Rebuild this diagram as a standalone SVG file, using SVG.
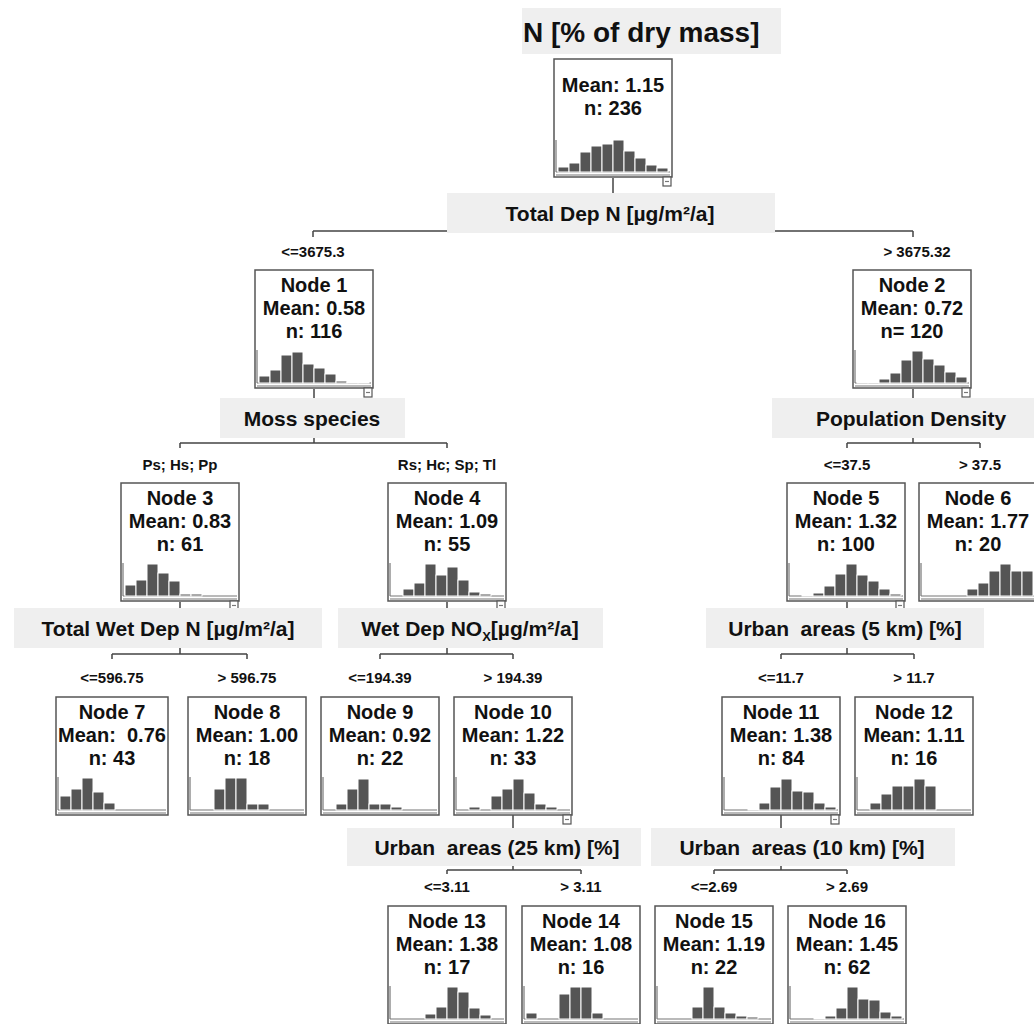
<svg xmlns="http://www.w3.org/2000/svg" width="1034" height="1024" viewBox="0 0 1034 1024">
<defs>
<style>
text{font-family:"Liberation Sans",Arial,sans-serif;font-weight:bold;fill:#111;text-anchor:middle;white-space:pre}
.nt{font-size:20px}
.sl{font-size:21px}
.lb{font-size:15px}
.tt{font-size:28px;text-anchor:start}
.box{fill:#fff;stroke:#555;stroke-width:1.5}
.sp{fill:#efefef}
.ax{stroke:#777;stroke-width:1.2;fill:none}
.bar{fill:#555;stroke:#fff;stroke-width:1}
.mn{fill:#fff;stroke:#555;stroke-width:1.2}
.cn{stroke:#444;stroke-width:1.5;fill:none}
</style>
</defs>
<rect width="1034" height="1024" fill="#fff"/>

<g id="connectors">
<path class="cn" d="M613,178V193 M313,231H913 M313,231V237 M913,231V237"/>
<path class="cn" d="M314,389V398 M314,438V443 M180,443H447 M180,443V448 M447,443V448"/>
<path class="cn" d="M913,389V398 M913,438V443 M847,443H980 M847,443V448 M980,443V448"/>
<path class="cn" d="M180,602V608 M180,648V654 M112,654H247 M112,654V659 M247,654V659"/>
<path class="cn" d="M447,602V608 M447,648V654 M380,654H513 M380,654V659 M513,654V659"/>
<path class="cn" d="M847,602V608 M847,648V654 M781,654H914 M781,654V659 M914,654V659"/>
<path class="cn" d="M513,815V828 M513,866V870 M447,870H581 M447,870V874 M581,870V874"/>
<path class="cn" d="M781,815V828 M781,866V870 M714,870H847 M714,870V874 M847,870V874"/>
</g>

<g id="title">
<rect class="sp" x="522" y="8" width="259" height="46"/>
<text class="tt" x="523" y="42">N [% of dry mass]</text>
</g>

<g id="root">
<rect class="box" x="554" y="59" width="118" height="118"/>
<text class="nt" x="613" y="92">Mean: 1.15</text>
<text class="nt" x="613" y="115">n: 236</text>
<path class="ax" d="M556,140V172 M556,172H670 M556,175H670"/>
<rect class="bar" x="558" y="167" width="11" height="5"/><rect class="bar" x="569" y="163" width="11" height="9"/><rect class="bar" x="580" y="152" width="11" height="20"/><rect class="bar" x="591" y="146" width="11" height="26"/><rect class="bar" x="602" y="144" width="11" height="28"/><rect class="bar" x="613" y="140" width="11" height="32"/><rect class="bar" x="624" y="151" width="11" height="21"/><rect class="bar" x="635" y="158" width="11" height="14"/><rect class="bar" x="646" y="165" width="11" height="7"/><rect class="bar" x="657" y="168" width="11" height="4"/>
<rect class="mn" x="663" y="177" width="8" height="9"/><path class="ax" d="M665,181.5H669"/>
</g>

<g id="split-total-dep-n">
<rect class="sp" x="447" y="193" width="328" height="40"/>
<text class="sl" x="610" y="221">Total Dep N [µg/m²/a]</text>
<text class="lb" x="313" y="257">&lt;=3675.3</text>
<text class="lb" x="917" y="257">&gt; 3675.32</text>
</g>

<g id="node1">
<rect class="box" x="255" y="270" width="118" height="118"/>
<text class="nt" x="314" y="292">Node 1</text>
<text class="nt" x="314" y="315">Mean: 0.58</text>
<text class="nt" x="314" y="338">n: 116</text>
<path class="ax" d="M257,350V383 M257,383H371 M257,386H371"/>
<rect class="bar" x="259" y="376" width="11" height="7"/><rect class="bar" x="270" y="370" width="11" height="13"/><rect class="bar" x="281" y="355" width="11" height="28"/><rect class="bar" x="292" y="352" width="11" height="31"/><rect class="bar" x="303" y="364" width="11" height="19"/><rect class="bar" x="314" y="368" width="11" height="15"/><rect class="bar" x="325" y="374" width="11" height="9"/><rect class="bar" x="336" y="381" width="11" height="2"/><rect class="bar" x="347" y="382" width="11" height="1"/><rect class="bar" x="358" y="382" width="11" height="1"/>
<rect class="mn" x="364" y="388" width="8" height="9"/><path class="ax" d="M366,392.5H370"/>
</g>

<g id="node2">
<rect class="box" x="853" y="270" width="118" height="118"/>
<text class="nt" x="912" y="292">Node 2</text>
<text class="nt" x="912" y="315">Mean: 0.72</text>
<text class="nt" x="912" y="338">n= 120</text>
<path class="ax" d="M855,350V383 M855,383H969 M855,386H969"/>
<rect class="bar" x="857" y="382" width="11" height="1"/><rect class="bar" x="868" y="382" width="11" height="1"/><rect class="bar" x="879" y="379" width="11" height="4"/><rect class="bar" x="890" y="373" width="11" height="10"/><rect class="bar" x="901" y="360" width="11" height="23"/><rect class="bar" x="912" y="351" width="11" height="32"/><rect class="bar" x="923" y="359" width="11" height="24"/><rect class="bar" x="934" y="365" width="11" height="18"/><rect class="bar" x="945" y="372" width="11" height="11"/><rect class="bar" x="956" y="377" width="11" height="6"/>
<rect class="mn" x="962" y="388" width="8" height="9"/><path class="ax" d="M964,392.5H968"/>
</g>

<g id="split-moss">
<rect class="sp" x="220" y="398" width="185" height="40"/>
<text class="sl" x="312" y="426">Moss species</text>
<text class="lb" x="180" y="470">Ps; Hs; Pp</text>
<text class="lb" x="447" y="470">Rs; Hc; Sp; Tl</text>
</g>

<g id="split-population">
<rect class="sp" x="772" y="398" width="262" height="40"/>
<text class="sl" x="911" y="426">Population Density</text>
<text class="lb" x="847" y="470">&lt;=37.5</text>
<text class="lb" x="980" y="470">&gt; 37.5</text>
</g>

<g id="node3">
<rect class="box" x="121" y="483" width="118" height="118"/>
<text class="nt" x="180" y="505">Node 3</text>
<text class="nt" x="180" y="528">Mean: 0.83</text>
<text class="nt" x="180" y="551">n: 61</text>
<path class="ax" d="M123,563V596 M123,596H237 M123,599H237"/>
<rect class="bar" x="125" y="585" width="11" height="11"/><rect class="bar" x="136" y="580" width="11" height="16"/><rect class="bar" x="147" y="564" width="11" height="32"/><rect class="bar" x="158" y="573" width="11" height="23"/><rect class="bar" x="169" y="581" width="11" height="15"/><rect class="bar" x="180" y="594" width="11" height="2"/><rect class="bar" x="191" y="594" width="11" height="2"/>
<rect class="mn" x="230" y="601" width="8" height="9"/><path class="ax" d="M232,605.5H236"/>
</g>

<g id="node4">
<rect class="box" x="388" y="483" width="118" height="118"/>
<text class="nt" x="447" y="505">Node 4</text>
<text class="nt" x="447" y="528">Mean: 1.09</text>
<text class="nt" x="447" y="551">n: 55</text>
<path class="ax" d="M390,563V596 M390,596H504 M390,599H504"/>
<rect class="bar" x="403" y="589" width="11" height="7"/><rect class="bar" x="414" y="583" width="11" height="13"/><rect class="bar" x="425" y="564" width="11" height="32"/><rect class="bar" x="436" y="575" width="11" height="21"/><rect class="bar" x="447" y="567" width="11" height="29"/><rect class="bar" x="458" y="580" width="11" height="16"/><rect class="bar" x="469" y="592" width="11" height="4"/><rect class="bar" x="480" y="594" width="11" height="2"/>
<rect class="mn" x="497" y="601" width="8" height="9"/><path class="ax" d="M499,605.5H503"/>
</g>

<g id="node5">
<rect class="box" x="787" y="483" width="118" height="118"/>
<text class="nt" x="846" y="505">Node 5</text>
<text class="nt" x="846" y="528">Mean: 1.32</text>
<text class="nt" x="846" y="551">n: 100</text>
<path class="ax" d="M789,563V596 M789,596H903 M789,599H903"/>
<rect class="bar" x="802" y="595" width="11" height="1"/><rect class="bar" x="813" y="593" width="11" height="3"/><rect class="bar" x="824" y="586" width="11" height="10"/><rect class="bar" x="835" y="574" width="11" height="22"/><rect class="bar" x="846" y="564" width="11" height="32"/><rect class="bar" x="857" y="575" width="11" height="21"/><rect class="bar" x="868" y="581" width="11" height="15"/><rect class="bar" x="879" y="589" width="11" height="7"/><rect class="bar" x="890" y="594" width="11" height="2"/>
<rect class="mn" x="896" y="601" width="8" height="9"/><path class="ax" d="M898,605.5H902"/>
</g>

<g id="node6">
<rect class="box" x="919" y="483" width="118" height="118"/>
<text class="nt" x="978" y="505">Node 6</text>
<text class="nt" x="978" y="528">Mean: 1.77</text>
<text class="nt" x="978" y="551">n: 20</text>
<path class="ax" d="M921,563V596 M921,596H1035 M921,599H1035"/>
<rect class="bar" x="967" y="589" width="11" height="7"/><rect class="bar" x="978" y="583" width="11" height="13"/><rect class="bar" x="989" y="571" width="11" height="25"/><rect class="bar" x="1000" y="564" width="11" height="32"/><rect class="bar" x="1011" y="571" width="11" height="25"/><rect class="bar" x="1022" y="571" width="11" height="25"/>
</g>

<g id="split-total-wet-dep">
<rect class="sp" x="14" y="608" width="308" height="40"/>
<text class="sl" x="168" y="636">Total Wet Dep N [µg/m²/a]</text>
<text class="lb" x="112" y="683">&lt;=596.75</text>
<text class="lb" x="247" y="683">&gt; 596.75</text>
</g>

<g id="split-wet-dep-nox">
<rect class="sp" x="338" y="608" width="265" height="40"/>
<text class="sl" x="470" y="636">Wet Dep NO<tspan font-size="13" dy="5">X</tspan><tspan dy="-5">[µg/m²/a]</tspan></text>
<text class="lb" x="380" y="683">&lt;=194.39</text>
<text class="lb" x="513" y="683">&gt; 194.39</text>
</g>

<g id="split-urban-5">
<rect class="sp" x="706" y="608" width="278" height="40"/>
<text class="sl" x="845" y="636">Urban  areas (5 km) [%]</text>
<text class="lb" x="781" y="683">&lt;=11.7</text>
<text class="lb" x="914" y="683">&gt; 11.7</text>
</g>

<g id="node7">
<rect class="box" x="56" y="697" width="112" height="118"/>
<text class="nt" x="112" y="719">Node 7</text>
<text class="nt" x="112" y="742">Mean:  0.76</text>
<text class="nt" x="112" y="765">n: 43</text>
<path class="ax" d="M58,777V810 M58,810H166 M58,813H166"/>
<rect class="bar" x="60" y="796" width="11" height="14"/><rect class="bar" x="71" y="789" width="11" height="21"/><rect class="bar" x="82" y="778" width="11" height="32"/><rect class="bar" x="93" y="792" width="11" height="18"/><rect class="bar" x="104" y="803" width="11" height="7"/>
</g>

<g id="node8">
<rect class="box" x="188" y="697" width="118" height="118"/>
<text class="nt" x="247" y="719">Node 8</text>
<text class="nt" x="247" y="742">Mean: 1.00</text>
<text class="nt" x="247" y="765">n: 18</text>
<path class="ax" d="M190,777V810 M190,810H304 M190,813H304"/>
<rect class="bar" x="214" y="789" width="11" height="21"/><rect class="bar" x="225" y="778" width="11" height="32"/><rect class="bar" x="236" y="778" width="11" height="32"/><rect class="bar" x="247" y="804" width="11" height="6"/><rect class="bar" x="258" y="804" width="11" height="6"/>
</g>

<g id="node9">
<rect class="box" x="321" y="697" width="118" height="118"/>
<text class="nt" x="380" y="719">Node 9</text>
<text class="nt" x="380" y="742">Mean: 0.92</text>
<text class="nt" x="380" y="765">n: 22</text>
<path class="ax" d="M323,777V810 M323,810H437 M323,813H437"/>
<rect class="bar" x="336" y="804" width="11" height="6"/><rect class="bar" x="347" y="789" width="11" height="21"/><rect class="bar" x="358" y="779" width="11" height="31"/><rect class="bar" x="369" y="804" width="11" height="6"/><rect class="bar" x="380" y="804" width="11" height="6"/><rect class="bar" x="391" y="807" width="11" height="3"/>
</g>

<g id="node10">
<rect class="box" x="454" y="697" width="118" height="118"/>
<text class="nt" x="513" y="719">Node 10</text>
<text class="nt" x="513" y="742">Mean: 1.22</text>
<text class="nt" x="513" y="765">n: 33</text>
<path class="ax" d="M456,777V810 M456,810H570 M456,813H570"/>
<rect class="bar" x="469" y="807" width="11" height="3"/><rect class="bar" x="491" y="796" width="11" height="14"/><rect class="bar" x="502" y="789" width="11" height="21"/><rect class="bar" x="513" y="779" width="11" height="31"/><rect class="bar" x="524" y="793" width="11" height="17"/><rect class="bar" x="535" y="804" width="11" height="6"/><rect class="bar" x="546" y="807" width="11" height="3"/>
<rect class="mn" x="563" y="815" width="8" height="9"/><path class="ax" d="M565,819.5H569"/>
</g>

<g id="node11">
<rect class="box" x="722" y="697" width="118" height="118"/>
<text class="nt" x="781" y="719">Node 11</text>
<text class="nt" x="781" y="742">Mean: 1.38</text>
<text class="nt" x="781" y="765">n: 84</text>
<path class="ax" d="M724,777V810 M724,810H838 M724,813H838"/>
<rect class="bar" x="748" y="809" width="11" height="1"/><rect class="bar" x="759" y="803" width="11" height="7"/><rect class="bar" x="770" y="787" width="11" height="23"/><rect class="bar" x="781" y="779" width="11" height="31"/><rect class="bar" x="792" y="791" width="11" height="19"/><rect class="bar" x="803" y="792" width="11" height="18"/><rect class="bar" x="814" y="803" width="11" height="7"/><rect class="bar" x="825" y="807" width="11" height="3"/>
<rect class="mn" x="831" y="815" width="8" height="9"/><path class="ax" d="M833,819.5H837"/>
</g>

<g id="node12">
<rect class="box" x="855" y="697" width="118" height="118"/>
<text class="nt" x="914" y="719">Node 12</text>
<text class="nt" x="914" y="742">Mean: 1.11</text>
<text class="nt" x="914" y="765">n: 16</text>
<path class="ax" d="M857,777V810 M857,810H971 M857,813H971"/>
<rect class="bar" x="870" y="803" width="11" height="7"/><rect class="bar" x="881" y="794" width="11" height="16"/><rect class="bar" x="892" y="786" width="11" height="24"/><rect class="bar" x="903" y="786" width="11" height="24"/><rect class="bar" x="914" y="779" width="11" height="31"/><rect class="bar" x="925" y="786" width="11" height="24"/>
</g>

<g id="split-urban-25">
<rect class="sp" x="347" y="828" width="294" height="38"/>
<text class="sl" x="497" y="855">Urban  areas (25 km) [%]</text>
<text class="lb" x="447" y="892">&lt;=3.11</text>
<text class="lb" x="581" y="892">&gt; 3.11</text>
</g>

<g id="split-urban-10">
<rect class="sp" x="651" y="828" width="304" height="38"/>
<text class="sl" x="802" y="855">Urban  areas (10 km) [%]</text>
<text class="lb" x="714" y="892">&lt;=2.69</text>
<text class="lb" x="847" y="892">&gt; 2.69</text>
</g>

<g id="node13">
<rect class="box" x="388" y="906" width="118" height="118"/>
<text class="nt" x="447" y="928">Node 13</text>
<text class="nt" x="447" y="951">Mean: 1.38</text>
<text class="nt" x="447" y="974">n: 17</text>
<path class="ax" d="M390,986V1019 M390,1019H504 M390,1022H504"/>
<rect class="bar" x="425" y="1014" width="11" height="5"/><rect class="bar" x="436" y="1007" width="11" height="12"/><rect class="bar" x="447" y="987" width="11" height="32"/><rect class="bar" x="458" y="992" width="11" height="27"/><rect class="bar" x="469" y="1008" width="11" height="11"/><rect class="bar" x="480" y="1015" width="11" height="4"/>
</g>

<g id="node14">
<rect class="box" x="522" y="906" width="118" height="118"/>
<text class="nt" x="581" y="928">Node 14</text>
<text class="nt" x="581" y="951">Mean: 1.08</text>
<text class="nt" x="581" y="974">n: 16</text>
<path class="ax" d="M524,986V1019 M524,1019H638 M524,1022H638"/>
<rect class="bar" x="526" y="1013" width="11" height="6"/><rect class="bar" x="559" y="994" width="11" height="25"/><rect class="bar" x="570" y="987" width="11" height="32"/><rect class="bar" x="581" y="987" width="11" height="32"/><rect class="bar" x="592" y="1013" width="11" height="6"/>
</g>

<g id="node15">
<rect class="box" x="655" y="906" width="118" height="118"/>
<text class="nt" x="714" y="928">Node 15</text>
<text class="nt" x="714" y="951">Mean: 1.19</text>
<text class="nt" x="714" y="974">n: 22</text>
<path class="ax" d="M657,986V1019 M657,1019H771 M657,1022H771"/>
<rect class="bar" x="692" y="1007" width="11" height="12"/><rect class="bar" x="703" y="987" width="11" height="32"/><rect class="bar" x="714" y="1007" width="11" height="12"/><rect class="bar" x="725" y="1013" width="11" height="6"/><rect class="bar" x="736" y="1016" width="11" height="3"/><rect class="bar" x="747" y="1017" width="11" height="2"/>
</g>

<g id="node16">
<rect class="box" x="788" y="906" width="118" height="118"/>
<text class="nt" x="847" y="928">Node 16</text>
<text class="nt" x="847" y="951">Mean: 1.45</text>
<text class="nt" x="847" y="974">n: 62</text>
<path class="ax" d="M790,986V1019 M790,1019H904 M790,1022H904"/>
<rect class="bar" x="814" y="1018" width="11" height="1"/><rect class="bar" x="825" y="1016" width="11" height="3"/><rect class="bar" x="836" y="1008" width="11" height="11"/><rect class="bar" x="847" y="987" width="11" height="32"/><rect class="bar" x="858" y="999" width="11" height="20"/><rect class="bar" x="869" y="1000" width="11" height="19"/><rect class="bar" x="880" y="1012" width="11" height="7"/><rect class="bar" x="891" y="1016" width="11" height="3"/>
</g>
</svg>
